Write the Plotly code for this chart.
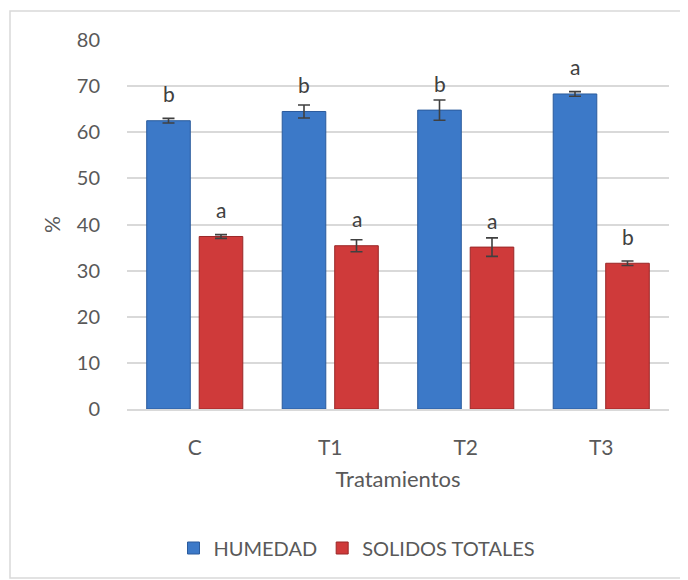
import plotly.graph_objects as go

categories = ["C", "T1", "T2", "T3"]
humedad = [62.5, 64.5, 64.8, 68.3]
humedad_err = [0.5, 1.4, 2.2, 0.5]
humedad_letters = ["b", "b", "b", "a"]
solidos = [37.4, 35.4, 35.1, 31.6]
solidos_err = [0.4, 1.3, 2.0, 0.5]
solidos_letters = ["a", "a", "a", "b"]
y_ticks = [0, 10, 20, 30, 40, 50, 60, 70, 80]

FONT = "Lato"
TXT = "#595959"
BAR_GAP = 0.225
GROUP_GAP = 0.17

# page body has an 8px margin; work in page pixels and subtract it
OFF = 8
W, H = 688 - OFF, 580 - OFF
PL, PR, PT, PB = 127, 669, 40, 409  # plot area in page pixels
L, T = PL - OFF, PT - OFF
R = W - (PR - OFF)
B = H - (PB - OFF)
pw, ph = W - L - R, H - T - B

fig = go.Figure()
fig.add_trace(go.Bar(
    name="HUMEDAD", x=categories, y=humedad,
    marker=dict(color="#3c79c8", line=dict(color="#2b5b9c", width=1)),
    error_y=dict(type="data", array=humedad_err, color="#404040", thickness=1.6, width=6),
))
fig.add_trace(go.Bar(
    name="SOLIDOS TOTALES", x=categories, y=solidos,
    marker=dict(color="#cf3a3a", line=dict(color="#9a2727", width=1)),
    error_y=dict(type="data", array=solidos_err, color="#404040", thickness=1.6, width=6),
))

off = (1 - BAR_GAP) / 4
annotations = []
for i, (v, l) in enumerate(zip(humedad, humedad_letters)):
    annotations.append(dict(x=i - off, y=v, text=l, xref="x", yref="y", showarrow=False,
                            yshift=27, font=dict(family=FONT, size=21, color="#404040")))
for i, (v, l) in enumerate(zip(solidos, solidos_letters)):
    annotations.append(dict(x=i + off, y=v, text=l, xref="x", yref="y", showarrow=False,
                            yshift=27, font=dict(family=FONT, size=21, color="#404040")))

fig.update_layout(
    width=W, height=H,
    margin=dict(l=L, r=R, t=T, b=B),
    paper_bgcolor="white", plot_bgcolor="white",
    barmode="group", bargap=BAR_GAP, bargroupgap=GROUP_GAP,
    font=dict(family=FONT, size=20, color=TXT),
    annotations=annotations,
    legend=dict(orientation="h", x=(357 - PL) / pw, xanchor="center",
                y=(PB - 548) / ph, yanchor="middle", font=dict(size=20, color=TXT),
                itemwidth=30, traceorder="normal"),
    xaxis=dict(
        showgrid=False, showline=True, linecolor="#d9d9d9", linewidth=1.5,
        ticks="outside", ticklen=19, tickcolor="rgba(0,0,0,0)",
        tickfont=dict(size=21, color=TXT),
        title=dict(text="Tratamientos", font=dict(size=22, color=TXT), standoff=14),
    ),
    yaxis=dict(
        range=[0, 80], tickvals=y_ticks, showgrid=True, gridcolor="#d9d9d9", gridwidth=1.5,
        zeroline=False, showline=False,
        ticks="outside", ticklen=22, tickcolor="rgba(0,0,0,0)",
        tickfont=dict(size=20, color=TXT),
        title=dict(text="%", font=dict(size=21, color=TXT), standoff=10),
    ),
    shapes=[dict(type="rect", xref="paper", yref="paper",
                 x0=(10 - PL) / pw, x1=(686 - PL) / pw,
                 y0=(PB - 578) / ph, y1=(PB - 11) / ph,
                 line=dict(color="#d9d9d9", width=1.5), fillcolor="rgba(0,0,0,0)", layer="below")],
)

fig.write_html("out.html")
